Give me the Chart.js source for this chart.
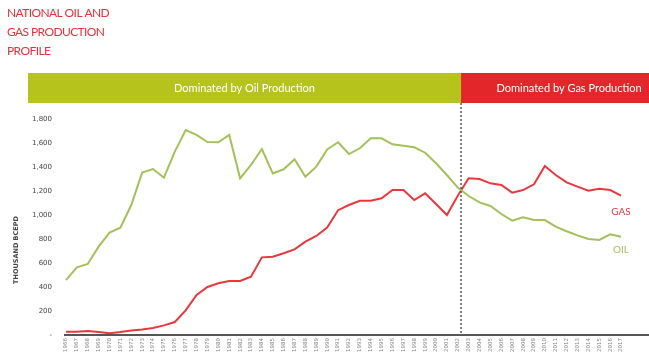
<!DOCTYPE html>
<html>
<head>
<meta charset="utf-8">
<script src="https://cdn.jsdelivr.net/npm/chart.js@4.4.1/dist/chart.umd.min.js"></script>
<style>
html, body { margin: 0; padding: 0; background: #fff; }
</style>
</head>
<body>
<canvas id="prodChart" width="649" height="355"></canvas>
<script>
// production in thousand BCEPD
const years = [1966, 1967, 1968, 1969, 1970, 1971, 1972, 1973, 1974, 1975, 1976, 1977, 1978, 1979, 1980, 1981, 1982,
  1983, 1984, 1985, 1986, 1987, 1988, 1989, 1990, 1991, 1992, 1993, 1994, 1995, 1996, 1997, 1998, 1999, 2000, 2001,
  2002, 2003, 2004, 2005, 2006, 2007, 2008, 2009, 2010, 2011, 2012, 2013, 2014, 2015, 2016, 2017];
const oil = [458, 564, 592, 736, 853, 894, 1083, 1353, 1383, 1311, 1528, 1708, 1667, 1608, 1606, 1667, 1306,
  1417, 1550, 1347, 1381, 1464, 1319, 1403, 1547, 1606, 1508, 1556, 1639, 1639, 1589, 1578, 1564, 1519, 1431, 1333,
  1228, 1158, 1105, 1075, 1008, 953, 981, 958, 958, 903, 865, 830, 800, 792, 839, 819];
const gas = [28, 28, 33, 25, 15, 25, 38, 45, 58, 80, 108, 205, 333, 400, 431, 450, 450,
  486, 647, 653, 681, 714, 778, 825, 895, 1040, 1083, 1119, 1119, 1139, 1208, 1208, 1125, 1181, 1092, 1000,
  1160, 1306, 1300, 1264, 1250, 1186, 1208, 1256, 1408, 1333, 1272, 1236, 1203, 1219, 1208, 1161];
const yTicks = [0, 200, 400, 600, 800, 1000, 1200, 1400, 1600, 1800];
const titleLines = ['NATIONAL OIL AND', 'GAS PRODUCTION', 'PROFILE'];
const bandLabels = ['Dominated by Oil Production', 'Dominated by Gas Production'];
const switchYear = 2002.3;

const OIL_GREEN = '#a3c05a';
const GAS_RED = '#e8383d';

const extras = {
  id: 'extras',
  beforeDraw(chart) {
    const ctx = chart.ctx;
    const x = chart.scales.x;
    const split = x.getPixelForValue(switchYear);
    ctx.save();
    // title
    ctx.fillStyle = '#e5323b';
    ctx.font = '12px Lato';
    ctx.letterSpacing = '-0.6px';
    ctx.textAlign = 'left';
    ctx.textBaseline = 'alphabetic';
    titleLines.forEach((t, i) => ctx.fillText(t, 7, 17 + i * 19));
    ctx.letterSpacing = '0px';
    // period bands
    ctx.fillStyle = '#b6c31c';
    ctx.fillRect(28, 73, split - 28, 30);
    ctx.fillStyle = '#e2262a';
    ctx.fillRect(split, 73, chart.width - split, 30);
    ctx.fillStyle = '#fff';
    ctx.font = '11px Lato';
    ctx.textAlign = 'center';
    ctx.textBaseline = 'middle';
    ctx.fillText(bandLabels[0], (28 + split) / 2, 88);
    ctx.fillText(bandLabels[1], split + 108, 88);
    // y axis title
    ctx.translate(16, 250);
    ctx.rotate(-Math.PI / 2);
    ctx.fillStyle = '#444';
    ctx.font = 'bold 6.5px "DejaVu Sans"';
    ctx.fillText('THOUSAND BCEPD', 0, 0);
    ctx.restore();
  },
  afterDatasetsDraw(chart) {
    const ctx = chart.ctx;
    const { x, y } = chart.scales;
    const split = x.getPixelForValue(switchYear);
    ctx.save();
    ctx.strokeStyle = '#555';
    ctx.lineWidth = 1.5;
    ctx.setLineDash([2, 2]);
    ctx.beginPath();
    ctx.moveTo(split, 103);
    ctx.lineTo(split, chart.chartArea.bottom);
    ctx.stroke();
    ctx.font = '10px Lato';
    ctx.textAlign = 'center';
    ctx.textBaseline = 'middle';
    ctx.fillStyle = GAS_RED;
    ctx.fillText('GAS', x.getPixelForValue(2017), y.getPixelForValue(1025));
    ctx.fillStyle = OIL_GREEN;
    ctx.fillText('OIL', x.getPixelForValue(2017), y.getPixelForValue(708));
    ctx.restore();
  }
};

new Chart(document.getElementById('prodChart'), {
  type: 'line',
  data: {
    datasets: [
      { label: 'Oil', data: years.map((yr, i) => ({ x: yr, y: oil[i] })), borderColor: OIL_GREEN },
      { label: 'Gas', data: years.map((yr, i) => ({ x: yr, y: gas[i] })), borderColor: GAS_RED }
    ]
  },
  options: {
    responsive: false,
    animation: false,
    layout: { padding: { top: 119, left: 0, right: 0, bottom: 0 } },
    elements: { point: { radius: 0 }, line: { borderWidth: 2, tension: 0 } },
    plugins: { legend: { display: false }, tooltip: { enabled: false } },
    scales: {
      x: {
        type: 'linear',
        min: 1965.91,
        max: 2019.57,
        afterBuildTicks: s => { s.ticks = years.map(v => ({ value: v })); },
        afterFit: s => { s.height = 20; },
        grid: { display: false, drawTicks: false },
        border: { display: true, color: '#555', width: 2 },
        ticks: {
          autoSkip: false, maxRotation: 90, minRotation: 90, padding: 3,
          color: '#888', font: { size: 5.5, family: 'DejaVu Sans' },
          callback: v => String(v)
        }
      },
      y: {
        min: 0,
        max: 1800,
        afterBuildTicks: s => { s.ticks = yTicks.map(v => ({ value: v })); },
        afterFit: s => { s.width = 65; },
        grid: { display: false, drawTicks: false },
        border: { display: false },
        ticks: {
          padding: 13, color: '#444', font: { size: 7, family: 'DejaVu Sans' },
          callback: v => v === 0 ? '-' : v.toLocaleString('en-US')
        }
      }
    }
  },
  plugins: [extras]
});
</script>
</body>
</html>
